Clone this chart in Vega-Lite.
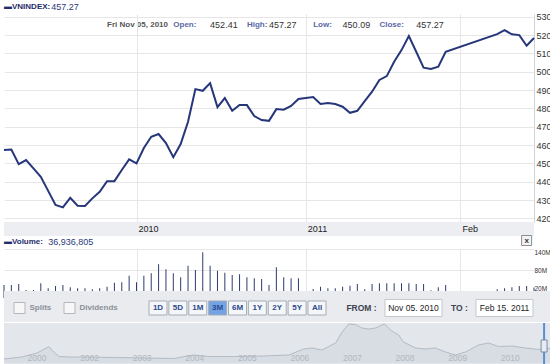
{
"$schema":"https://vega.github.io/schema/vega-lite/v6.json",
"padding":0,
"background":"#ffffff",
"spacing":0,
"bounds":"flush",
"config":{"view":{"stroke":null},"font":"Liberation Sans","axis":{"labelFont":"Liberation Sans"}},
"datasets":{
"q":[
{"date":"2010-11-05","close":457.27,"volume":36936805},
{"date":"2010-11-08","close":457.5,"volume":37000000},
{"date":"2010-11-09","close":449.6,"volume":40000000},
{"date":"2010-11-10","close":451.8,"volume":23000000},
{"date":"2010-11-11","close":447.3,"volume":23000000},
{"date":"2010-11-12","close":442.7,"volume":42000000},
{"date":"2010-11-15","close":435.0,"volume":27700000},
{"date":"2010-11-16","close":427.3,"volume":34300000},
{"date":"2010-11-17","close":426.0,"volume":37000000},
{"date":"2010-11-18","close":431.2,"volume":30600000},
{"date":"2010-11-19","close":426.9,"volume":27700000},
{"date":"2010-11-22","close":426.7,"volume":27700000},
{"date":"2010-11-23","close":430.9,"volume":24900000},
{"date":"2010-11-24","close":434.5,"volume":27700000},
{"date":"2010-11-25","close":440.3,"volume":32300000},
{"date":"2010-11-26","close":440.3,"volume":43700000},
{"date":"2010-11-29","close":446.4,"volume":44900000},
{"date":"2010-11-30","close":452.2,"volume":63700000},
{"date":"2010-12-01","close":450.0,"volume":44900000},
{"date":"2010-12-02","close":458.4,"volume":63700000},
{"date":"2010-12-03","close":464.5,"volume":70600000},
{"date":"2010-12-06","close":466.0,"volume":96300000},
{"date":"2010-12-07","close":461.1,"volume":82000000},
{"date":"2010-12-08","close":453.4,"volume":70600000},
{"date":"2010-12-09","close":460.5,"volume":59100000},
{"date":"2010-12-10","close":472.7,"volume":92300000},
{"date":"2010-12-13","close":490.5,"volume":80000000},
{"date":"2010-12-14","close":489.6,"volume":130600000},
{"date":"2010-12-15","close":493.8,"volume":92300000},
{"date":"2010-12-16","close":480.7,"volume":78000000},
{"date":"2010-12-17","close":485.6,"volume":72300000},
{"date":"2010-12-20","close":478.7,"volume":65700000},
{"date":"2010-12-21","close":481.8,"volume":67700000},
{"date":"2010-12-22","close":481.8,"volume":59100000},
{"date":"2010-12-23","close":475.8,"volume":56300000},
{"date":"2010-12-24","close":473.6,"volume":54300000},
{"date":"2010-12-27","close":473.2,"volume":37000000},
{"date":"2010-12-28","close":479.6,"volume":87700000},
{"date":"2010-12-29","close":479.3,"volume":59100000},
{"date":"2010-12-30","close":481.3,"volume":56300000},
{"date":"2010-12-31","close":485.1,"volume":56300000},
{"date":"2011-01-04","close":486.2,"volume":25700000},
{"date":"2011-01-05","close":482.4,"volume":32300000},
{"date":"2011-01-06","close":482.9,"volume":27700000},
{"date":"2011-01-07","close":482.4,"volume":27700000},
{"date":"2011-01-10","close":480.9,"volume":32300000},
{"date":"2011-01-11","close":477.6,"volume":35100000},
{"date":"2011-01-12","close":478.7,"volume":40000000},
{"date":"2011-01-13","close":484.0,"volume":24900000},
{"date":"2011-01-14","close":489.1,"volume":40000000},
{"date":"2011-01-17","close":495.5,"volume":42000000},
{"date":"2011-01-18","close":497.6,"volume":42000000},
{"date":"2011-01-19","close":505.4,"volume":42000000},
{"date":"2011-01-20","close":511.8,"volume":42000000},
{"date":"2011-01-21","close":519.5,"volume":42000000},
{"date":"2011-01-24","close":510.9,"volume":40000000},
{"date":"2011-01-25","close":502.2,"volume":40000000},
{"date":"2011-01-26","close":501.5,"volume":22000000},
{"date":"2011-01-27","close":502.7,"volume":30600000},
{"date":"2011-01-28","close":510.9,"volume":37000000},
{"date":"2011-02-08","close":520.5,"volume":24900000},
{"date":"2011-02-09","close":522.7,"volume":27700000},
{"date":"2011-02-10","close":520.4,"volume":30600000},
{"date":"2011-02-11","close":520.0,"volume":34300000},
{"date":"2011-02-14","close":514.2,"volume":34300000},
{"date":"2011-02-15","close":518.4,"volume":30000000}
],
"nav":[
{"m":"2000-07-28","v":120},{"m":"2000-12-01","v":180},{"m":"2001-03-15","v":300},{"m":"2001-06-05","v":490},{"m":"2001-07-08","v":330},{"m":"2001-08-15","v":195},{"m":"2001-10-22","v":180},{"m":"2002-02-03","v":180},{"m":"2002-08-28","v":165},{"m":"2003-03-25","v":150},{"m":"2003-10-19","v":135},{"m":"2004-03-07","v":240},{"m":"2004-06-21","v":195},{"m":"2004-12-10","v":195},{"m":"2005-07-05","v":210},{"m":"2005-12-28","v":240},{"m":"2006-04-10","v":420},{"m":"2006-06-07","v":450},{"m":"2006-08-15","v":390},{"m":"2006-11-18","v":600},{"m":"2006-12-28","v":900},{"m":"2007-02-17","v":1170},{"m":"2007-04-05","v":1150},{"m":"2007-05-19","v":1050},{"m":"2007-07-05","v":1020},{"m":"2007-08-21","v":1050},{"m":"2007-10-23","v":1170},{"m":"2007-12-13","v":960},{"m":"2008-01-30","v":840},{"m":"2008-03-03","v":630},{"m":"2008-05-26","v":450},{"m":"2008-08-03","v":420},{"m":"2008-10-11","v":450},{"m":"2008-12-20","v":330},{"m":"2009-02-27","v":240},{"m":"2009-05-08","v":330},{"m":"2009-08-07","v":540},{"m":"2009-10-15","v":600},{"m":"2009-12-24","v":495},{"m":"2010-03-25","v":510},{"m":"2010-06-28","v":450},{"m":"2010-09-27","v":405},{"m":"2011-01-13","v":450}
],
"years":[{"m":"2000-12-31"},{"m":"2002-01-01"},{"m":"2003-01-01"},{"m":"2004-01-01"},{"m":"2005-01-01"},{"m":"2006-01-01"},{"m":"2007-01-01"},{"m":"2008-01-01"},{"m":"2009-01-01"},{"m":"2010-01-01"}]
},
"vconcat":[
{"width":530,"height":14,"data":{"values":[{}]},
 "layer":[
  {"mark":{"type":"text","align":"left","baseline":"middle","fontSize":8,"fontWeight":"bold","color":"#1f2d6b"},
   "encoding":{"x":{"datum":"2010-11-05","type":"ordinal","scale":{"type":"point","padding":0,"domain":["2010-11-05","2010-11-08","2010-11-09","2010-11-10","2010-11-11","2010-11-12","2010-11-15","2010-11-16","2010-11-17","2010-11-18","2010-11-19","2010-11-22","2010-11-23","2010-11-24","2010-11-25","2010-11-26","2010-11-29","2010-11-30","2010-12-01","2010-12-02","2010-12-03","2010-12-06","2010-12-07","2010-12-08","2010-12-09","2010-12-10","2010-12-13","2010-12-14","2010-12-15","2010-12-16","2010-12-17","2010-12-20","2010-12-21","2010-12-22","2010-12-23","2010-12-24","2010-12-27","2010-12-28","2010-12-29","2010-12-30","2010-12-31","2011-01-03","2011-01-04","2011-01-05","2011-01-06","2011-01-07","2011-01-10","2011-01-11","2011-01-12","2011-01-13","2011-01-14","2011-01-17","2011-01-18","2011-01-19","2011-01-20","2011-01-21","2011-01-24","2011-01-25","2011-01-26","2011-01-27","2011-01-28","2011-01-31","2011-02-01","2011-02-02","2011-02-03","2011-02-04","2011-02-07","2011-02-08","2011-02-09","2011-02-10","2011-02-11","2011-02-14","2011-02-15"]},"axis":null},
   "text":{"value":"▬VNINDEX:"}}},
  {"mark":{"type":"text","align":"left","baseline":"middle","fontSize":9,"color":"#2b3a7a","dx":3},
   "encoding":{"x":{"datum":"2010-11-15","type":"ordinal","axis":null},"text":{"value":"457.27"}}},
  {"mark":{"type":"text","align":"left","baseline":"middle","fontSize":8,"fontWeight":"bold","color":"#555555","yOffset":17.5},"encoding":{"x":{"datum":"2010-11-25","type":"ordinal","axis":null},"text":{"value":"Fri Nov 05, 2010"}}},
  {"mark":{"type":"text","align":"left","baseline":"middle","fontSize":8,"fontWeight":"bold","color":"#5a68a6","yOffset":17.5},"encoding":{"x":{"datum":"2010-12-08","type":"ordinal","axis":null},"text":{"value":"Open:"}}},
  {"mark":{"type":"text","align":"left","baseline":"middle","fontSize":9,"color":"#333333","yOffset":17.5},"encoding":{"x":{"datum":"2010-12-15","type":"ordinal","axis":null},"text":{"value":"452.41"}}},
  {"mark":{"type":"text","align":"left","baseline":"middle","fontSize":8,"fontWeight":"bold","color":"#5a68a6","yOffset":17.5},"encoding":{"x":{"datum":"2010-12-22","type":"ordinal","axis":null},"text":{"value":"High:"}}},
  {"mark":{"type":"text","align":"left","baseline":"middle","fontSize":9,"color":"#333333","yOffset":17.5},"encoding":{"x":{"datum":"2010-12-27","type":"ordinal","axis":null},"text":{"value":"457.27"}}},
  {"mark":{"type":"text","align":"left","baseline":"middle","fontSize":8,"fontWeight":"bold","color":"#5a68a6","yOffset":17.5},"encoding":{"x":{"datum":"2011-01-04","type":"ordinal","axis":null},"text":{"value":"Low:"}}},
  {"mark":{"type":"text","align":"left","baseline":"middle","fontSize":9,"color":"#333333","yOffset":17.5},"encoding":{"x":{"datum":"2011-01-10","type":"ordinal","axis":null},"text":{"value":"450.09"}}},
  {"mark":{"type":"text","align":"left","baseline":"middle","fontSize":8,"fontWeight":"bold","color":"#5a68a6","yOffset":17.5},"encoding":{"x":{"datum":"2011-01-17","type":"ordinal","axis":null},"text":{"value":"Close:"}}},
  {"mark":{"type":"text","align":"left","baseline":"middle","fontSize":9,"color":"#333333","yOffset":17.5},"encoding":{"x":{"datum":"2011-01-24","type":"ordinal","axis":null},"text":{"value":"457.27"}}}
 ]},
{"width":530,"height":208,"data":{"name":"q"},
 "mark":{"type":"line","color":"#26367a","strokeWidth":2},
 "encoding":{
  "x":{"field":"date","type":"ordinal","scale":{"type":"point","padding":0,"domain":["2010-11-05","2010-11-08","2010-11-09","2010-11-10","2010-11-11","2010-11-12","2010-11-15","2010-11-16","2010-11-17","2010-11-18","2010-11-19","2010-11-22","2010-11-23","2010-11-24","2010-11-25","2010-11-26","2010-11-29","2010-11-30","2010-12-01","2010-12-02","2010-12-03","2010-12-06","2010-12-07","2010-12-08","2010-12-09","2010-12-10","2010-12-13","2010-12-14","2010-12-15","2010-12-16","2010-12-17","2010-12-20","2010-12-21","2010-12-22","2010-12-23","2010-12-24","2010-12-27","2010-12-28","2010-12-29","2010-12-30","2010-12-31","2011-01-03","2011-01-04","2011-01-05","2011-01-06","2011-01-07","2011-01-10","2011-01-11","2011-01-12","2011-01-13","2011-01-14","2011-01-17","2011-01-18","2011-01-19","2011-01-20","2011-01-21","2011-01-24","2011-01-25","2011-01-26","2011-01-27","2011-01-28","2011-01-31","2011-02-01","2011-02-02","2011-02-03","2011-02-04","2011-02-07","2011-02-08","2011-02-09","2011-02-10","2011-02-11","2011-02-14","2011-02-15"]},
   "axis":{"values":["2010-12-01","2011-01-03","2011-02-01"],"grid":true,"gridColor":"#e6e6e6","labels":false,"ticks":false,"domain":false,"title":null}},
  "y":{"field":"close","type":"quantitative","scale":{"domain":[418,531.5],"zero":false,"nice":false},
   "axis":{"orient":"right","values":[420,430,440,450,460,470,480,490,500,510,520,530],"grid":true,"gridColor":"#e6e6e6","ticks":false,"domain":true,"domainColor":"#cfd3d8","labelPadding":2,"labelFontSize":9,"labelColor":"#333333","title":null}}
 }},
{"width":530,"height":14,"view":{"fill":"#eceef2"},
 "data":{"values":[{"date":"2010-12-01","label":"2010"},{"date":"2011-01-03","label":"2011"},{"date":"2011-02-01","label":"Feb"}]},
 "mark":{"type":"text","align":"left","baseline":"middle","dx":2,"fontSize":9,"color":"#222222"},
 "encoding":{"x":{"field":"date","type":"ordinal","scale":{"type":"point","padding":0,"domain":["2010-11-05","2010-11-08","2010-11-09","2010-11-10","2010-11-11","2010-11-12","2010-11-15","2010-11-16","2010-11-17","2010-11-18","2010-11-19","2010-11-22","2010-11-23","2010-11-24","2010-11-25","2010-11-26","2010-11-29","2010-11-30","2010-12-01","2010-12-02","2010-12-03","2010-12-06","2010-12-07","2010-12-08","2010-12-09","2010-12-10","2010-12-13","2010-12-14","2010-12-15","2010-12-16","2010-12-17","2010-12-20","2010-12-21","2010-12-22","2010-12-23","2010-12-24","2010-12-27","2010-12-28","2010-12-29","2010-12-30","2010-12-31","2011-01-03","2011-01-04","2011-01-05","2011-01-06","2011-01-07","2011-01-10","2011-01-11","2011-01-12","2011-01-13","2011-01-14","2011-01-17","2011-01-18","2011-01-19","2011-01-20","2011-01-21","2011-01-24","2011-01-25","2011-01-26","2011-01-27","2011-01-28","2011-01-31","2011-02-01","2011-02-02","2011-02-03","2011-02-04","2011-02-07","2011-02-08","2011-02-09","2011-02-10","2011-02-11","2011-02-14","2011-02-15"]},"axis":null},
  "text":{"field":"label"}}},
{"width":530,"height":13,"data":{"values":[{}]},
 "layer":[
  {"mark":{"type":"text","align":"left","baseline":"middle","fontSize":8,"fontWeight":"bold","color":"#1f2d6b","yOffset":-1},
   "encoding":{"x":{"datum":"2010-11-05","type":"ordinal","scale":{"type":"point","padding":0,"domain":["2010-11-05","2010-11-08","2010-11-09","2010-11-10","2010-11-11","2010-11-12","2010-11-15","2010-11-16","2010-11-17","2010-11-18","2010-11-19","2010-11-22","2010-11-23","2010-11-24","2010-11-25","2010-11-26","2010-11-29","2010-11-30","2010-12-01","2010-12-02","2010-12-03","2010-12-06","2010-12-07","2010-12-08","2010-12-09","2010-12-10","2010-12-13","2010-12-14","2010-12-15","2010-12-16","2010-12-17","2010-12-20","2010-12-21","2010-12-22","2010-12-23","2010-12-24","2010-12-27","2010-12-28","2010-12-29","2010-12-30","2010-12-31","2011-01-03","2011-01-04","2011-01-05","2011-01-06","2011-01-07","2011-01-10","2011-01-11","2011-01-12","2011-01-13","2011-01-14","2011-01-17","2011-01-18","2011-01-19","2011-01-20","2011-01-21","2011-01-24","2011-01-25","2011-01-26","2011-01-27","2011-01-28","2011-01-31","2011-02-01","2011-02-02","2011-02-03","2011-02-04","2011-02-07","2011-02-08","2011-02-09","2011-02-10","2011-02-11","2011-02-14","2011-02-15"]},"axis":null},
   "text":{"value":"▬Volume:"}}},
  {"mark":{"type":"text","align":"left","baseline":"middle","fontSize":9,"color":"#2b3a7a","yOffset":-1},
   "encoding":{"x":{"datum":"2010-11-15","type":"ordinal","axis":null},"text":{"value":"36,936,805"}}},
  {"mark":{"type":"point","shape":"square","size":100,"filled":true,"fill":"#f3f3f3","stroke":"#8c8c8c","strokeWidth":1,"opacity":1,"yOffset":-2},
   "encoding":{"x":{"datum":"2011-02-14","type":"ordinal","axis":null}}},
  {"mark":{"type":"text","align":"center","baseline":"middle","fontSize":8,"fontWeight":"bold","color":"#333333","yOffset":-2},
   "encoding":{"x":{"datum":"2011-02-14","type":"ordinal","axis":null},"text":{"value":"x"}}}
 ]},
{"width":530,"height":42,"data":{"name":"q"},
 "mark":{"type":"bar","size":1,"color":"#2e3b6e"},
 "encoding":{
  "x":{"field":"date","type":"ordinal","scale":{"type":"point","padding":0,"domain":["2010-11-05","2010-11-08","2010-11-09","2010-11-10","2010-11-11","2010-11-12","2010-11-15","2010-11-16","2010-11-17","2010-11-18","2010-11-19","2010-11-22","2010-11-23","2010-11-24","2010-11-25","2010-11-26","2010-11-29","2010-11-30","2010-12-01","2010-12-02","2010-12-03","2010-12-06","2010-12-07","2010-12-08","2010-12-09","2010-12-10","2010-12-13","2010-12-14","2010-12-15","2010-12-16","2010-12-17","2010-12-20","2010-12-21","2010-12-22","2010-12-23","2010-12-24","2010-12-27","2010-12-28","2010-12-29","2010-12-30","2010-12-31","2011-01-03","2011-01-04","2011-01-05","2011-01-06","2011-01-07","2011-01-10","2011-01-11","2011-01-12","2011-01-13","2011-01-14","2011-01-17","2011-01-18","2011-01-19","2011-01-20","2011-01-21","2011-01-24","2011-01-25","2011-01-26","2011-01-27","2011-01-28","2011-01-31","2011-02-01","2011-02-02","2011-02-03","2011-02-04","2011-02-07","2011-02-08","2011-02-09","2011-02-10","2011-02-11","2011-02-14","2011-02-15"]},
   "axis":{"values":["2010-12-01","2011-01-03","2011-02-01"],"grid":true,"gridColor":"#e6e6e6","labels":false,"ticks":false,"domain":false,"title":null}},
  "y":{"field":"volume","type":"quantitative","scale":{"domain":[20000000,140000000],"zero":false,"nice":false},
   "axis":{"orient":"right","values":[20000000,80000000,140000000],"format":"~s","grid":true,"gridColor":"#e6e6e6","domain":false,"ticks":false,"labelPadding":0,"labelFontSize":6.5,"labelColor":"#333333","labelFlush":true,"title":null}}
 }},
{"vconcat":[
 {"width":550,"height":31,"view":{"fill":"#e9ebee"},
  "resolve":{"scale":{"x":"independent"}},
  "layer":[
   {"data":{"values":[{"opt":"Splits"},{"opt":"Dividends"}]},
    "encoding":{"x":{"field":"opt","type":"nominal","scale":{"type":"point","domain":["Splits","Dividends"],"range":[15.5,65.5],"padding":0},"axis":null}},
    "layer":[
     {"mark":{"type":"point","shape":"square","size":121,"filled":true,"fill":"#f7f7f7","stroke":"#b3b7bd","strokeWidth":1,"opacity":1,"yOffset":1.5}},
     {"mark":{"type":"text","align":"left","baseline":"middle","dx":10,"fontSize":8,"fontWeight":"bold","color":"#8a9099","yOffset":1.5},"encoding":{"text":{"field":"opt"}}}
    ]},
   {"data":{"values":[{"btn":"1D"},{"btn":"5D"},{"btn":"1M"},{"btn":"3M"},{"btn":"6M"},{"btn":"1Y"},{"btn":"2Y"},{"btn":"5Y"},{"btn":"All"}]},
    "encoding":{"x":{"field":"btn","type":"nominal","scale":{"type":"point","domain":["1D","5D","1M","3M","6M","1Y","2Y","5Y","All"],"range":[154,313],"padding":0},"axis":null}},
    "layer":[
     {"mark":{"type":"point","shape":"M-1,-0.78H1V0.78H-1Z","size":324,"filled":true,"stroke":"#a7adb6","strokeWidth":1,"opacity":1,"yOffset":1.5},
      "encoding":{"fill":{"condition":{"test":"datum.btn === '3M'","value":"#74a3e3"},"value":"#f5f6f8"}}},
     {"mark":{"type":"text","align":"center","baseline":"middle","fontSize":8,"fontWeight":"bold","color":"#2b4a90","yOffset":1.5},"encoding":{"text":{"field":"btn"}}}
    ]},
   {"data":{"values":[{"lbl":"FROM :"},{"lbl":"TO :"}]},
    "mark":{"type":"text","align":"center","baseline":"middle","fontSize":8.5,"fontWeight":"bold","color":"#3c4350","yOffset":1.5},
    "encoding":{"x":{"field":"lbl","type":"nominal","scale":{"type":"point","domain":["FROM :","TO :"],"range":[357.5,455.5],"padding":0},"axis":null},"text":{"field":"lbl"}}},
   {"data":{"values":[{"val":"Nov 05. 2010"},{"val":"Feb 15. 2011"}]},
    "encoding":{"x":{"field":"val","type":"nominal","scale":{"type":"point","domain":["Nov 05. 2010","Feb 15. 2011"],"range":[409.5,500.5],"padding":0},"axis":null}},
    "layer":[
     {"mark":{"type":"point","shape":"M-1,-0.3H1V0.3H-1Z","size":3249,"filled":true,"fill":"#ffffff","stroke":"#c3c7cc","strokeWidth":1,"opacity":1,"yOffset":1.5}},
     {"mark":{"type":"text","align":"center","baseline":"middle","fontSize":8.5,"color":"#222222","yOffset":1.5},"encoding":{"text":{"field":"val"}}}
    ]}
  ]},
 {"width":550,"height":41,"view":{"fill":"#e3e6ea"},
  "layer":[
   {"data":{"name":"nav"},
    "mark":{"type":"area","color":"#d2d8e0","line":{"color":"#b3bbc5","strokeWidth":1}},
    "encoding":{
     "x":{"field":"m","type":"temporal","scale":{"domain":[{"year":2000,"month":7,"date":28},{"year":2011,"month":1,"date":13}]},"axis":null},
     "y":{"field":"v","type":"quantitative","scale":{"domain":[-30,1200],"zero":false,"nice":false},"axis":null}}},
   {"data":{"name":"years"},
    "mark":{"type":"text","align":"left","baseline":"middle","fontSize":8.5,"color":"#b2b8c0","dx":1,"yOffset":14.5},
    "encoding":{"x":{"field":"m","type":"temporal","axis":null},"text":{"field":"m","type":"temporal","format":"%Y"}}},
   {"data":{"values":[{}]},"mark":{"type":"rule","color":"#5a8ed8","strokeWidth":2},
    "encoding":{"x":{"datum":{"year":2010,"month":11,"date":5},"type":"temporal","axis":null}}},
   {"data":{"values":[{}]},"mark":{"type":"point","shape":"M-0.5,-1H0.5V1H-0.5Z","size":144,"filled":true,"fill":"#e8ecf1","stroke":"#7b8da6","strokeWidth":1,"opacity":1},
    "encoding":{"x":{"datum":{"year":2010,"month":11,"date":5},"type":"temporal","axis":null},"y":{"datum":510,"type":"quantitative","axis":null}}}
  ]}
 ],
 "spacing":1,
 "bounds":"flush"}
]
}
